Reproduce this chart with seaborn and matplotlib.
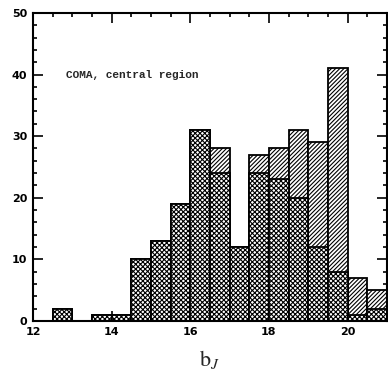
import numpy as np
import pandas as pd
import matplotlib
matplotlib.use("Agg")
import matplotlib.pyplot as plt
import seaborn as sns
from matplotlib.ticker import MultipleLocator

# bin edges (b_J magnitude, width 0.5)
bin_left = [12.0, 12.5, 13.0, 13.5, 14.0, 14.5, 15.0, 15.5, 16.0, 16.5,
            17.0, 17.5, 18.0, 18.5, 19.0, 19.5, 20.0, 20.5]
# total counts (single-hatched outline)
total_counts = [0, 2, 0, 1, 1, 10, 13, 19, 31, 28, 12, 27, 28, 31, 29, 41, 7, 5]
# subsample counts (cross-hatched)
sub_counts = [0, 2, 0, 1, 1, 10, 13, 19, 31, 24, 12, 24, 23, 20, 12, 8, 1, 2]
bin_width = 0.5
annotation = "COMA, central region"

sns.set_style("ticks")
plt.rcParams['font.family'] = ['DejaVu Sans']
plt.rcParams['hatch.linewidth'] = 0.8
plt.rcParams['mathtext.fontset'] = 'stix'

edges = list(bin_left) + [bin_left[-1] + bin_width]
centers = [b + bin_width / 2 for b in bin_left]
df = pd.DataFrame({"bJ": centers, "total": total_counts, "sub": sub_counts})

fig = plt.figure(figsize=(3.88, 3.79), dpi=100)
ax = fig.add_axes([0.085, 0.153, 0.912, 0.813])

sns.histplot(data=df, x="bJ", weights="total", bins=edges, ax=ax,
             facecolor="white", edgecolor="black", linewidth=1.3,
             hatch="////////", alpha=1)
sns.histplot(data=df, x="bJ", weights="sub", bins=edges, ax=ax,
             facecolor="white", edgecolor="black", linewidth=1.3,
             hatch="xxxxxxx", alpha=1)

ax.set_xlim(12, 21)
ax.set_ylim(0, 50)
ax.set_ylabel("")
ax.set_xlabel(r"$\mathrm{b}_J$", fontsize=16, labelpad=8)

ax.xaxis.set_major_locator(MultipleLocator(2))
ax.xaxis.set_minor_locator(MultipleLocator(0.5))
ax.yaxis.set_major_locator(MultipleLocator(10))
ax.yaxis.set_minor_locator(MultipleLocator(2))
ax.tick_params(which="both", direction="in", top=True, right=True,
               width=1.2, colors="black")
ax.tick_params(which="major", length=7, labelsize=8, pad=4)
ax.tick_params(which="minor", length=3)
for lab in ax.get_xticklabels() + ax.get_yticklabels():
    lab.set_fontweight("bold")
for s in ax.spines.values():
    s.set_linewidth(1.5)
    s.set_color("black")

ax.text(12.85, 40, annotation, fontsize=8, family=["Liberation Mono"],
        fontweight="bold", va="center", ha="left")

fig.savefig("out.png", dpi=100)
